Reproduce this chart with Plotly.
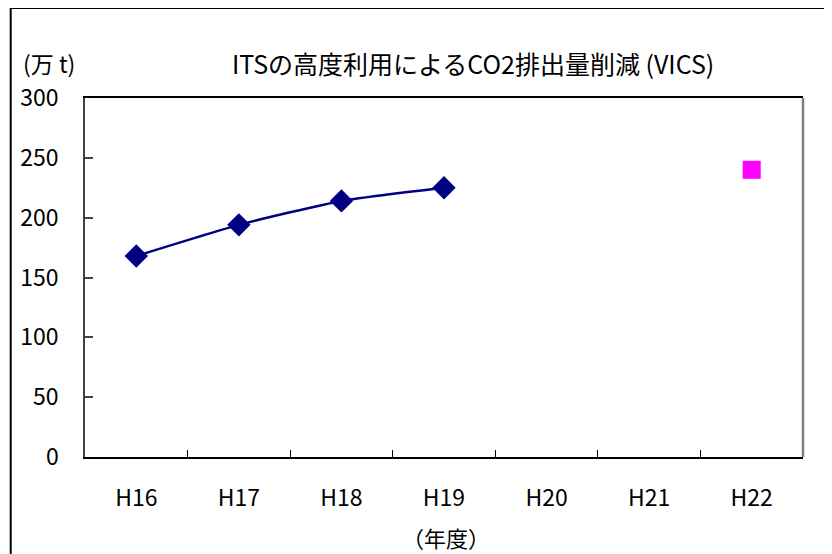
import plotly.graph_objects as go

years = ["H16", "H17", "H18", "H19", "H20", "H21", "H22"]
actual = [168, 194, 214, 225, None, None, None]
target = [None, None, None, None, None, None, 240]
title_text = "ITSの高度利用によるCO2排出量削減 (VICS)"
y_unit = "(万 t)"
x_title = "（年度）"

FONT = "Noto Sans CJK JP, Liberation Sans, sans-serif"

fig = go.Figure()
fig.add_trace(go.Scatter(
    x=years, y=actual, mode="lines+markers",
    line=dict(color="#000080", width=2.5, shape="spline", smoothing=0.5),
    marker=dict(symbol="diamond", size=18, color="#000080"),
    connectgaps=False, showlegend=False, cliponaxis=False,
))
fig.add_trace(go.Scatter(
    x=years, y=target, mode="markers",
    marker=dict(symbol="square", size=18, color="#FF00FF"),
    showlegend=False, cliponaxis=False,
))

# page body has an 8px margin, so figure coords = screen coords - 8
W, H = 824, 546
L, T = 75, 90
pw, ph = 720, 359
R, B = W - L - pw, H - T - ph

def px(xs):
    return (xs - 8 - L) / pw

def py(ys):
    return (H - B - (ys - 8)) / ph

fig.update_layout(
    width=W, height=H,
    margin=dict(l=L, r=R, t=T, b=B),
    paper_bgcolor="white", plot_bgcolor="white",
    font=dict(family=FONT, size=22, color="black"),
    xaxis=dict(
        type="category", range=[-0.5, 6.5], tickson="boundaries",
        ticks="inside", ticklen=7, tickcolor="black", tickwidth=1,
        showline=True, linecolor="black", linewidth=1.5, mirror=True,
        showgrid=False, zeroline=False, ticklabelstandoff=20,
        tickfont=dict(size=23),
    ),
    yaxis=dict(
        range=[0, 300], dtick=50, ticks="inside", ticklen=8,
        tickcolor="#404040", tickwidth=1.5,
        showline=True, linecolor="#404040", linewidth=1.5,
        showgrid=False, zeroline=False, ticklabelstandoff=20,
        tickfont=dict(size=23),
    ),
    shapes=[
        dict(type="line", xref="paper", yref="paper", x0=1, x1=1, y0=0, y1=1,
             line=dict(color="#808080", width=2.5)),
        dict(type="line", xref="paper", yref="paper", x0=px(8), x1=px(850),
             y0=py(8), y1=py(8), line=dict(color="black", width=2)),
        dict(type="line", xref="paper", yref="paper", x0=px(8.5), x1=px(8.5),
             y0=py(8), y1=py(570), line=dict(color="black", width=2)),
    ],
    annotations=[
        dict(text=title_text, xref="paper", yref="paper", x=px(472), y=py(63),
             showarrow=False, xanchor="center", yanchor="middle",
             font=dict(size=25)),
        dict(text=y_unit, xref="paper", yref="paper", x=px(19), y=py(63),
             showarrow=False, xanchor="left", yanchor="middle",
             font=dict(size=23)),
        dict(text=x_title, xref="paper", yref="paper", x=px(445), y=py(537),
             showarrow=False, xanchor="center", yanchor="middle",
             font=dict(size=22)),
    ],
)

fig.write_html("out.html")
